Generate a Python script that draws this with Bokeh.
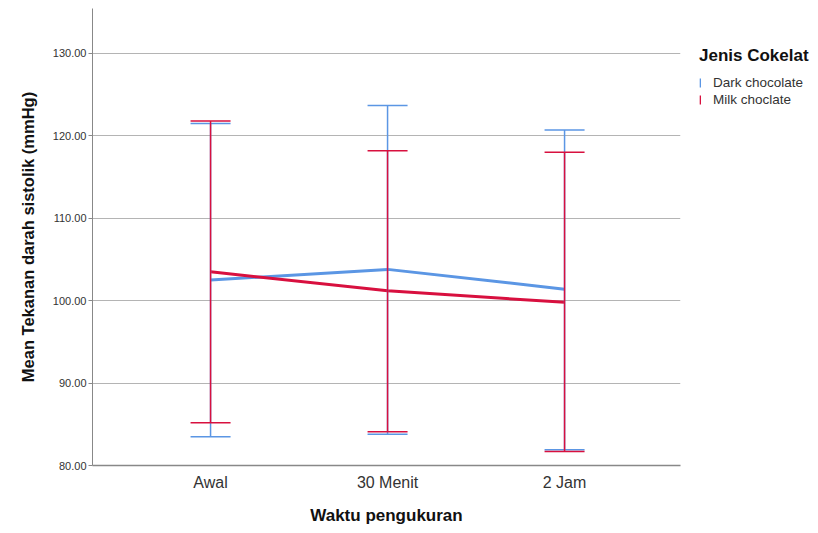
from bokeh.plotting import figure
from bokeh.models import (Range1d, FixedTicker, PrintfTickFormatter, Whisker, TeeHead,
                          ColumnDataSource, Legend, LegendItem)
from bokeh.embed import file_html
from bokeh.resources import INLINE

categories = ["Awal", "30 Menit", "2 Jam"]
dark_mean = [102.5, 103.8, 101.4]
dark_upper = [121.5, 123.7, 120.7]
dark_lower = [83.5, 83.8, 81.9]
milk_mean = [103.5, 101.2, 99.8]
milk_upper = [121.8, 118.2, 118.0]
milk_lower = [85.2, 84.1, 81.7]
y_ticks = [80, 90, 100, 110, 120, 130]

BLUE = "#5b96e4"
RED = "#d8103f"
FONT = "Liberation Sans"

xs = list(range(len(categories)))

p = figure(frame_width=588, frame_height=457, output_backend="svg", toolbar_location=None,
           x_range=Range1d(-0.667, 2.655), y_range=Range1d(80, 135.46),
           min_border_left=92, min_border_right=130, min_border_top=8, min_border_bottom=60)
p.outline_line_color = None
p.background_fill_color = "white"
p.border_fill_color = "white"

# grid
p.xgrid.grid_line_color = None
p.ygrid.ticker = FixedTicker(ticks=y_ticks)
p.ygrid.grid_line_color = "#b4b4b4"
p.ygrid.grid_line_width = 1

# y axis
p.yaxis.ticker = FixedTicker(ticks=y_ticks)
p.yaxis.formatter = PrintfTickFormatter(format="%.2f")
p.yaxis.axis_label = "Mean Tekanan darah sistolik (mmHg)"
p.yaxis.axis_label_text_font = FONT
p.yaxis.axis_label_text_font_style = "bold"
p.yaxis.axis_label_text_font_size = "16.5px"
p.yaxis.axis_label_text_color = "#111111"
p.yaxis.axis_label_standoff = 13
p.yaxis.major_label_text_font = FONT
p.yaxis.major_label_text_font_size = "11px"
p.yaxis.major_label_text_color = "#333333"
p.yaxis.major_label_standoff = 2
p.yaxis.major_tick_out = 4
p.yaxis.major_tick_in = 0
p.yaxis.minor_tick_line_color = None
p.yaxis.axis_line_color = "#888888"
p.yaxis.major_tick_line_color = "#888888"

# x axis
p.xaxis.ticker = FixedTicker(ticks=xs)
p.xaxis.major_label_overrides = {i: c for i, c in zip(xs, categories)}
p.xaxis.axis_label = "Waktu pengukuran"
p.xaxis.axis_label_text_font = FONT
p.xaxis.axis_label_text_font_style = "bold"
p.xaxis.axis_label_text_font_size = "17px"
p.xaxis.axis_label_text_color = "#111111"
p.xaxis.axis_label_standoff = 12
p.xaxis.major_label_text_font = FONT
p.xaxis.major_label_text_font_size = "16px"
p.xaxis.major_label_text_color = "#333333"
p.xaxis.major_label_standoff = 8
p.xaxis.major_tick_out = 0
p.xaxis.major_tick_in = 0
p.xaxis.minor_tick_line_color = None
p.xaxis.axis_line_color = "#888888"
p.xaxis.axis_line_width = 1.5


def add_series(mean, lower, upper, color):
    src = ColumnDataSource(dict(x=xs, mean=mean, lower=lower, upper=upper))
    w = Whisker(base="x", lower="lower", upper="upper", source=src, dimension="height",
                line_color=color, line_width=1.5, level="glyph",
                upper_head=TeeHead(size=40, line_color=color, line_width=1.5),
                lower_head=TeeHead(size=40, line_color=color, line_width=1.5))
    p.add_layout(w)
    # hair-thin bars along the error stems: invisible in the plot, they give the legend its "I" icon
    icon = p.vbar(x="x", bottom="lower", top="upper", width=0.0001, source=src,
                  fill_color=color, line_color=None)
    p.line("x", "mean", source=src, line_color=color, line_width=3)
    return icon


dark_icon = add_series(dark_mean, dark_lower, dark_upper, BLUE)
milk_icon = add_series(milk_mean, milk_lower, milk_upper, RED)

legend = Legend(items=[LegendItem(label="Dark chocolate", renderers=[dark_icon]),
                       LegendItem(label="Milk choclate", renderers=[milk_icon])],
                location=(19, 358))
legend.title = "Jenis Cokelat"
legend.title_text_font = FONT
legend.title_text_font_style = "bold"
legend.title_text_font_size = "17px"
legend.title_text_color = "#111111"
legend.title_standoff = 9
legend.label_text_font = FONT
legend.label_text_font_size = "13.5px"
legend.label_text_color = "#333333"
legend.glyph_width = 2
legend.glyph_height = 11
legend.label_height = 14
legend.label_standoff = 12
legend.spacing = 2
legend.padding = 0
legend.margin = 0
legend.border_line_color = None
legend.background_fill_alpha = 0
p.add_layout(legend, "right")

open("out.html", "w").write(file_html(p, INLINE))
